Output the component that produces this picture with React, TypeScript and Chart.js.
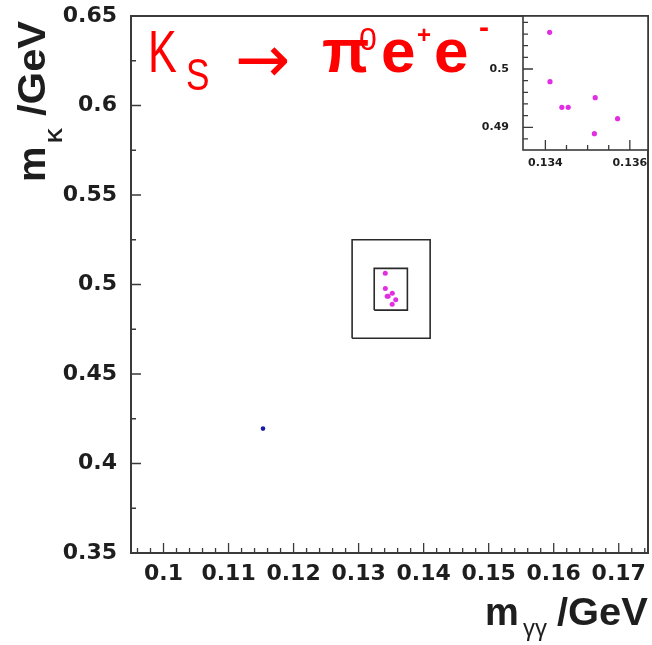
import React, { useEffect, useRef } from 'react';
import { Chart, registerables } from 'chart.js';

Chart.register(...registerables);

// ---------- data ----------
const X_TICKS = [0.1, 0.11, 0.12, 0.13, 0.14, 0.15, 0.16, 0.17];
const Y_TICKS = [0.35, 0.4, 0.45, 0.5, 0.55, 0.6, 0.65];
const Y_MINOR = [0.375, 0.425, 0.475, 0.525, 0.575, 0.625];
const X_RANGE = [0.095, 0.1745];
const Y_RANGE = [0.35, 0.65];

const BG_X = [0.1153];
const BG_Y = [0.4195];

const SIGNAL_X = [0.1341, 0.13411, 0.13439, 0.13454, 0.13518, 0.13516, 0.13571];
const SIGNAL_Y = [0.5063, 0.49782, 0.49343, 0.49343, 0.49508, 0.4889, 0.49148];

const OUTER_BOX_X = [0.129, 0.141];
const OUTER_BOX_Y = [0.47, 0.525];
const INNER_BOX_X = [0.1324, 0.1375];
const INNER_BOX_Y = [0.4857, 0.509];

const INSET_X_TICKS = [0.134, 0.136];
const INSET_X_MINOR = [0.1345, 0.135, 0.1355];
const INSET_Y_TICKS = [0.49, 0.5];
const INSET_Y_MINOR = [0.488, 0.492, 0.494, 0.496, 0.498, 0.502, 0.504, 0.506, 0.508];
const INSET_X_RANGE = [0.13347, 0.13643];
const INSET_Y_RANGE = [0.4861, 0.5091];

// minor ticks every 0.002 on the main x axis (decoration only)
const X_MINOR: number[] = [];
for (let i = 48; i <= 87; i++) if (i % 5 !== 0) X_MINOR.push(+(i * 0.002).toFixed(3));

const FRAME = '#3a3a3a';
const TEXT = '#1e1e1e';
const MAGENTA = '#e22ee2';
const BLUE = '#1a1aa8';

const pts = (xs: number[], ys: number[]) => xs.map((x, i) => ({ x, y: ys[i] }));
const box = (bx: number[], by: number[]) => [
  { x: bx[0], y: by[0] },
  { x: bx[1], y: by[0] },
  { x: bx[1], y: by[1] },
  { x: bx[0], y: by[1] },
  { x: bx[0], y: by[0] },
];

const zeroPad = (s: any) => {
  s.paddingTop = 0;
  s.paddingBottom = 0;
  s.paddingLeft = 0;
  s.paddingRight = 0;
};

function makeFramePlugin(cfg: {
  xMajor: number[]; xMinor: number[]; yMajor: number[]; yMinor: number[];
  majorLen: number; minorLen: number; frameWidth: number; fillWhite?: boolean;
}) {
  return {
    id: 'rootFrame',
    beforeDatasetsDraw(chart: any) {
      if (!cfg.fillWhite) return;
      const { ctx, chartArea: a } = chart;
      ctx.save();
      ctx.fillStyle = '#fff';
      ctx.fillRect(a.left, a.top, a.right - a.left, a.bottom - a.top);
      ctx.restore();
    },
    afterDatasetsDraw(chart: any) {
      const { ctx, chartArea: a, scales } = chart;
      const x = scales.x, y = scales.y;
      ctx.save();
      ctx.strokeStyle = FRAME;
      ctx.lineWidth = 1.3;
      ctx.beginPath();
      const xt = (v: number, len: number) => {
        const p = x.getPixelForValue(v);
        ctx.moveTo(p, a.bottom);
        ctx.lineTo(p, a.bottom - len);
      };
      const yt = (v: number, len: number) => {
        const p = y.getPixelForValue(v);
        ctx.moveTo(a.left, p);
        ctx.lineTo(a.left + len, p);
      };
      cfg.xMajor.forEach((v) => xt(v, cfg.majorLen));
      cfg.xMinor.forEach((v) => xt(v, cfg.minorLen));
      cfg.yMajor.forEach((v) => yt(v, cfg.majorLen));
      cfg.yMinor.forEach((v) => yt(v, cfg.minorLen));
      ctx.stroke();
      ctx.lineWidth = cfg.frameWidth;
      ctx.strokeRect(a.left, a.top, a.right - a.left, a.bottom - a.top);
      ctx.restore();
    },
  };
}

function piece(ctx: CanvasRenderingContext2D, text: string, font: string, x: number, y: number, sx = 1) {
  ctx.save();
  ctx.font = font;
  ctx.translate(x, y);
  ctx.scale(sx, 1);
  ctx.fillText(text, 0, 0);
  ctx.restore();
}

const titlesPlugin = {
  id: 'titles',
  afterDraw(chart: any) {
    const ctx: CanvasRenderingContext2D = chart.ctx;
    ctx.save();
    ctx.textAlign = 'left';
    ctx.textBaseline = 'alphabetic';

    // red process title
    ctx.fillStyle = '#ff0000';
    const SANS = '"Liberation Sans", Arial, sans-serif';
    piece(ctx, 'K', `60px ${SANS}`, 148, 72, 0.72);
    piece(ctx, 'S', `44px ${SANS}`, 186, 90, 0.8);
    piece(ctx, '\u2192', `66px "DejaVu Sans", sans-serif`, 235, 82, 1.0);
    piece(ctx, '\u03C0', `bold 62px ${SANS}`, 322, 72);
    piece(ctx, '0', `32px ${SANS}`, 359, 50);
    piece(ctx, 'e', `bold 62px ${SANS}`, 381, 72);
    piece(ctx, '+', `bold 24px ${SANS}`, 417, 43);
    piece(ctx, 'e', `bold 62px ${SANS}`, 434, 72);
    piece(ctx, '-', `bold 30px ${SANS}`, 479, 37);

    // axis titles
    ctx.fillStyle = TEXT;
    // x title
    piece(ctx, 'm', `bold 38px ${SANS}`, 485, 625);
    piece(ctx, '\u03B3\u03B3', `24px ${SANS}`, 523, 636);
    piece(ctx, '/GeV', `bold 38px ${SANS}`, 557, 625, 1.05);
    // y title (rotated)
    ctx.translate(45, 182);
    ctx.rotate(-Math.PI / 2);
    piece(ctx, 'm', `bold 38px ${SANS}`, 0, 0, 1.05);
    piece(ctx, 'K', `bold 21px ${SANS}`, 39, 17);
    piece(ctx, '/GeV', `bold 38px ${SANS}`, 66, 0, 1.1);
    ctx.restore();
  },
};

const TICK_FONT = { family: '"DejaVu Sans", sans-serif', size: 22, weight: 'bold' as const };
const INSET_FONT = { family: '"DejaVu Sans", sans-serif', size: 11, weight: 'bold' as const };

const INSET_LEFT = 470;

export default function App() {
  const mainRef = useRef<HTMLCanvasElement>(null);
  const insetRef = useRef<HTMLCanvasElement>(null);

  useEffect(() => {
    const main = new Chart(mainRef.current!, {
      type: 'scatter',
      data: {
        datasets: [
          {
            data: pts(SIGNAL_X, SIGNAL_Y),
            pointRadius: 2.5,
            pointBackgroundColor: MAGENTA,
            pointBorderWidth: 0,
          },
          {
            data: pts(BG_X, BG_Y),
            pointRadius: 2.3,
            pointBackgroundColor: BLUE,
            pointBorderWidth: 0,
          },
          {
            data: box(INNER_BOX_X, INNER_BOX_Y),
            showLine: true,
            borderColor: '#2a2a2a',
            borderWidth: 1.6,
            pointRadius: 0,
            fill: false,
          },
          {
            data: box(OUTER_BOX_X, OUTER_BOX_Y),
            showLine: true,
            borderColor: '#2a2a2a',
            borderWidth: 1.6,
            pointRadius: 0,
            fill: false,
          },
        ],
      },
      options: {
        animation: false,
        responsive: false,
        devicePixelRatio: 1,
        events: [],
        layout: { padding: { top: 16, right: 3, left: 0, bottom: 0 } },
        plugins: { legend: { display: false }, tooltip: { enabled: false } },
        scales: {
          x: {
            type: 'linear',
            min: X_RANGE[0],
            max: X_RANGE[1],
            grid: { display: false, drawTicks: false },
            border: { display: false },
            afterBuildTicks: (s: any) => { s.ticks = X_TICKS.map((v) => ({ value: v })); },
            afterFit: (s: any) => { s.height = 92; zeroPad(s); },
            ticks: {
              autoSkip: false,
              maxRotation: 0,
              minRotation: 0,
              padding: 8,
              color: TEXT,
              font: TICK_FONT,
              callback: (v: any) => String(v),
            },
          },
          y: {
            type: 'linear',
            min: Y_RANGE[0],
            max: Y_RANGE[1],
            grid: { display: false, drawTicks: false },
            border: { display: false },
            afterBuildTicks: (s: any) => { s.ticks = Y_TICKS.map((v) => ({ value: v })); },
            afterFit: (s: any) => { s.width = 131; zeroPad(s); },
            ticks: {
              autoSkip: false,
              padding: 14,
              color: TEXT,
              font: TICK_FONT,
              callback: (v: any) => String(v),
            },
          },
        },
      },
      plugins: [
        makeFramePlugin({
          xMajor: X_TICKS, xMinor: X_MINOR, yMajor: Y_TICKS, yMinor: Y_MINOR,
          majorLen: 10, minorLen: 5, frameWidth: 2,
        }),
        titlesPlugin,
      ],
    } as any);

    const inset = new Chart(insetRef.current!, {
      type: 'scatter',
      data: {
        datasets: [
          {
            data: pts(SIGNAL_X, SIGNAL_Y),
            pointRadius: 2.6,
            pointBackgroundColor: MAGENTA,
            pointBorderWidth: 0,
          },
        ],
      },
      options: {
        animation: false,
        responsive: false,
        devicePixelRatio: 1,
        events: [],
        layout: { padding: { top: 16, right: 2, left: 0, bottom: 0 } },
        plugins: { legend: { display: false }, tooltip: { enabled: false } },
        scales: {
          x: {
            type: 'linear',
            min: INSET_X_RANGE[0],
            max: INSET_X_RANGE[1],
            grid: { display: false, drawTicks: false },
            border: { display: false },
            afterBuildTicks: (s: any) => { s.ticks = INSET_X_TICKS.map((v) => ({ value: v })); },
            afterFit: (s: any) => { s.height = 30; zeroPad(s); },
            ticks: {
              autoSkip: false,
              maxRotation: 0,
              minRotation: 0,
              padding: 7,
              color: TEXT,
              font: INSET_FONT,
              callback: (v: any) => String(v),
            },
          },
          y: {
            type: 'linear',
            min: INSET_Y_RANGE[0],
            max: INSET_Y_RANGE[1],
            grid: { display: false, drawTicks: false },
            border: { display: false },
            afterBuildTicks: (s: any) => { s.ticks = INSET_Y_TICKS.map((v) => ({ value: v })); },
            afterFit: (s: any) => { s.width = 523 - INSET_LEFT; zeroPad(s); },
            ticks: {
              autoSkip: false,
              padding: 14,
              color: TEXT,
              font: INSET_FONT,
              callback: (v: any) => String(v),
            },
          },
        },
      },
      plugins: [
        makeFramePlugin({
          xMajor: INSET_X_TICKS, xMinor: INSET_X_MINOR, yMajor: INSET_Y_TICKS, yMinor: INSET_Y_MINOR,
          majorLen: 10, minorLen: 5, frameWidth: 1.6, fillWhite: true,
        }),
      ],
    } as any);

    return () => {
      main.destroy();
      inset.destroy();
    };
  }, []);

  return (
    <div style={{ position: 'fixed', left: 0, top: 0, width: 652, height: 645, background: '#fff' }}>
      <canvas
        ref={mainRef}
        width={652}
        height={645}
        style={{ position: 'absolute', left: 0, top: 0, width: 652, height: 645 }}
      />
      <canvas
        ref={insetRef}
        width={652 - INSET_LEFT}
        height={180}
        style={{ position: 'absolute', left: INSET_LEFT, top: 0, width: 652 - INSET_LEFT, height: 180 }}
      />
    </div>
  );
}
